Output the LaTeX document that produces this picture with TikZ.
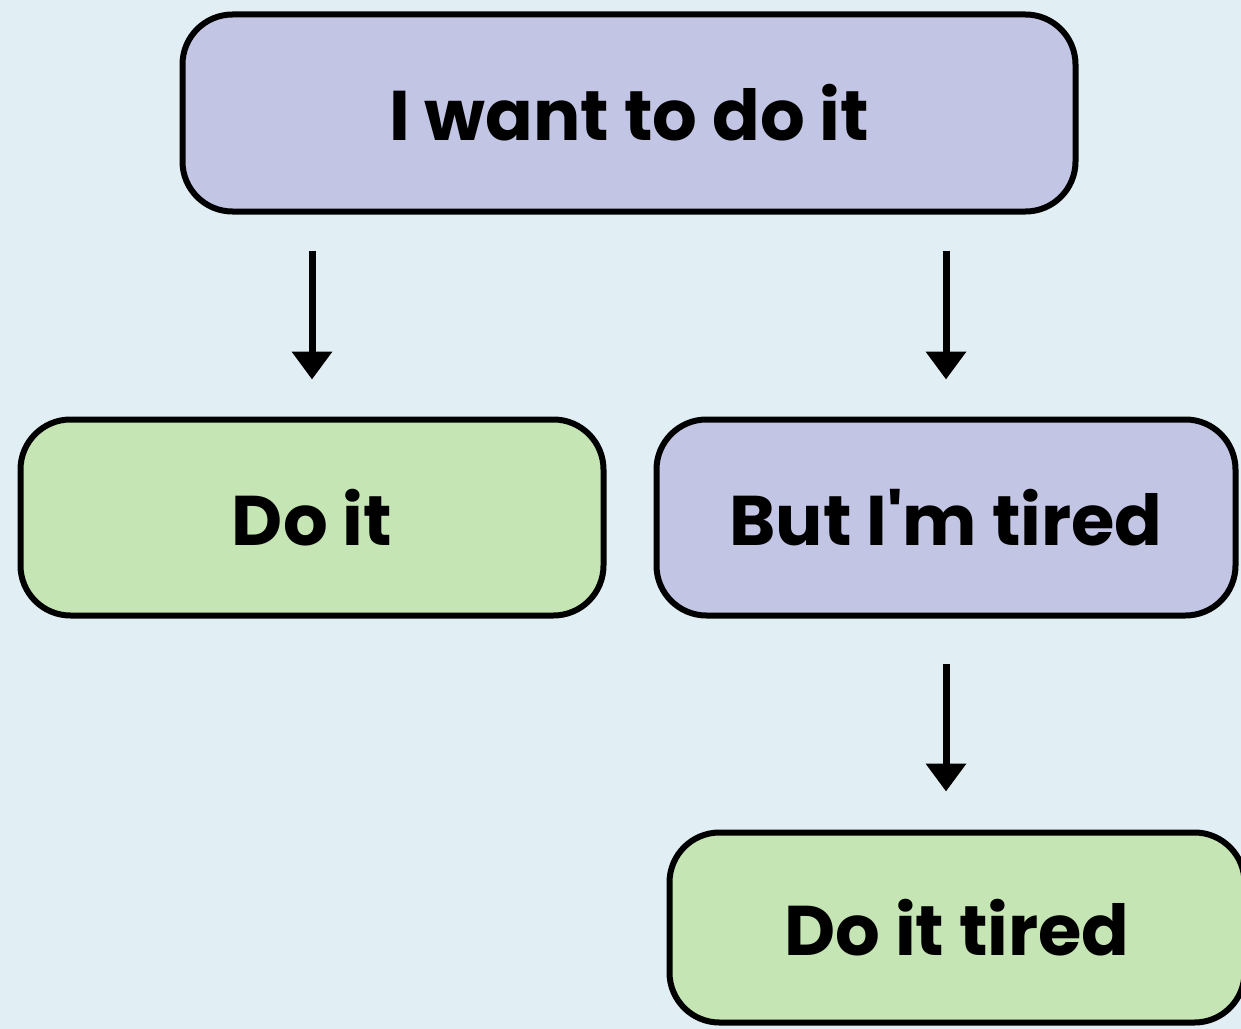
\documentclass[tikz,border=0pt]{standalone}
\usepackage{fontspec}
\setmainfont{Poppins}
\usetikzlibrary{arrows.meta}
\definecolor{bgblue}{HTML}{E1EEF3}
\definecolor{boxpurple}{HTML}{C3C5E5}
\definecolor{boxgreen}{HTML}{C6E5B4}
\begin{document}
\begin{tikzpicture}[x=1cm,y=1cm]
        % Styles
        \tikzstyle{choice box}=[draw=black,line width=0.12cm,rounded corners=1cm,inner sep=0pt,font=\fontsize{40}{48}\selectfont\bfseries,text=black]
        \tikzstyle{want}=[choice box,fill=boxpurple]
        \tikzstyle{act}=[choice box,fill=boxgreen]
        \tikzstyle{flow arrow}=[line width=0.14cm,-{Triangle[width=0.78cm,length=0.56cm]}]
        %background
        \fill[bgblue] (0,0) rectangle (24.82,-20.58);
        \useasboundingbox (0,0) rectangle (24.82,-20.58);
        %boxes
        \node[want,minimum width=17.86cm,minimum height=3.94cm] (want) at (12.58,-2.26) {I want to do it};
        \node[act,minimum width=11.66cm,minimum height=3.92cm] (doit) at (6.24,-10.35) {Do it};
        \node[want,minimum width=11.58cm,minimum height=3.92cm] (tired) at (18.92,-10.35) {But I\textquotesingle m tired};
        \node[act,minimum width=11.5cm,minimum height=3.8cm] (doittired) at (19.14,-18.55) {Do it tired};
        %arrows
        \draw[flow arrow,shorten <=0.72cm,shorten >=0.74cm] (want.south -| doit.north) -- (doit.north);
        \draw[flow arrow,shorten <=0.72cm,shorten >=0.74cm] (want.south -| tired.north) -- (tired.north);
        \draw[flow arrow,shorten <=0.9cm,shorten >=0.76cm] (tired.south) -- (tired.south |- doittired.north);
\end{tikzpicture}
\end{document}
